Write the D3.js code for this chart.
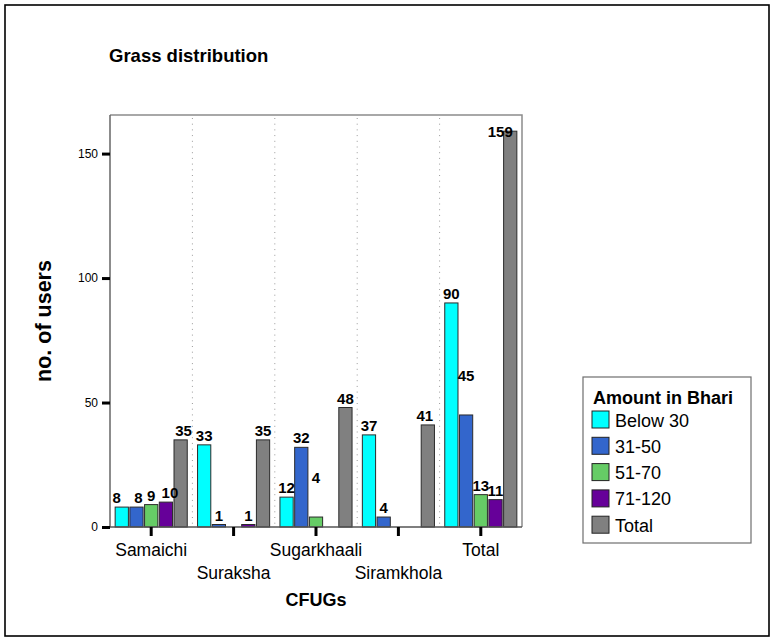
<!DOCTYPE html>
<html>
<head>
<meta charset="utf-8">
<script src="https://cdn.jsdelivr.net/npm/d3@7"></script>
<style>
  html, body { margin: 0; padding: 0; background: #fff; }
  svg { display: block; font-family: "Liberation Sans", Arial, sans-serif; }
</style>
</head>
<body>
<svg id="chart" width="774" height="641"></svg>
<script>
// Grass distribution by CFUG and amount (in Bhari)
const categories = ["Samaichi", "Suraksha", "Sugarkhaali", "Siramkhola", "Total"];
const seriesNames = ["Below 30", "31-50", "51-70", "71-120", "Total"];
const belowThirty = [8, 33, 12, 37, 90];
const thirtyOneToFifty = [8, 1, 32, 4, 45];
const fiftyOneToSeventy = [9, null, 4, null, 13];
const seventyOneTo120 = [10, 1, null, null, 11];
const totals = [35, 35, 48, 41, 159];
const seriesColors = ["#00FFFF", "#3366CC", "#66CC66", "#660099", "#808080"];
const yTickValues = [0, 50, 100, 150];

const seriesValues = [belowThirty, thirtyOneToFifty, fiftyOneToSeventy, seventyOneTo120, totals];

const svg = d3.select("#chart");
const FONT = "'Liberation Sans', Arial, sans-serif";

// outer frame
svg.append("rect")
  .attr("x", 5).attr("y", 5).attr("width", 764).attr("height", 631)
  .attr("fill", "#fff").attr("stroke", "#000").attr("stroke-width", 1.6);

// plot area
const plot = { left: 110, right: 522, top: 115, bottom: 527 };

const x = d3.scaleBand().domain(categories).range([plot.left, plot.right]).padding(0);
const xs = d3.scaleBand().domain(seriesNames).range([0, x.bandwidth()])
  .paddingInner(0.1).paddingOuter(0.35);
const y = d3.scaleLinear().domain([0, 165.5]).range([plot.bottom, plot.top]);

// title
svg.append("text")
  .attr("x", 109).attr("y", 62)
  .attr("font-size", 18.5).attr("font-weight", "bold")
  .text("Grass distribution");

// dotted separators between categories
svg.append("g").selectAll("line")
  .data(categories.slice(1))
  .join("line")
  .attr("x1", d => x(d)).attr("x2", d => x(d))
  .attr("y1", plot.top + 3).attr("y2", plot.bottom)
  .attr("stroke", "#9a9a9a").attr("stroke-width", 1)
  .attr("stroke-dasharray", "1,4.7");

// plot frame (top and right)
svg.append("path")
  .attr("d", `M${plot.left},${plot.top}H${plot.right}V${plot.bottom}`)
  .attr("fill", "none").attr("stroke", "#8c8c8c").attr("stroke-width", 1.5);

// bars
const barData = [];
categories.forEach((c, ci) => {
  seriesNames.forEach((s, si) => {
    const v = seriesValues[si][ci];
    if (v !== null && v !== undefined) barData.push({ c, s, si, v });
  });
});

svg.append("g").selectAll("rect")
  .data(barData)
  .join("rect")
  .attr("x", d => x(d.c) + xs(d.s))
  .attr("y", d => y(d.v))
  .attr("width", xs.bandwidth())
  .attr("height", d => y(0) - y(d.v))
  .attr("fill", d => seriesColors[d.si])
  .attr("stroke", "#2b2b2b").attr("stroke-width", 1);

// value labels, a few nudged apart so neighbours stay readable
const labelNudge = {
  "Samaichi|Below 30": [-5, 0],
  "Samaichi|31-50": [2, 0],
  "Samaichi|71-120": [4, 0],
  "Samaichi|Total": [3, 0],
  "Siramkhola|Total": [-3, 0],
  "Sugarkhaali|51-70": [0, -30],
  "Total|31-50": [0, -30],
  "Total|Total": [-10, 10]
};
const nudge = d => labelNudge[d.c + "|" + d.s] || [0, 0];
svg.append("g").selectAll("text")
  .data(barData)
  .join("text")
  .attr("x", d => x(d.c) + xs(d.s) + xs.bandwidth() / 2 + nudge(d)[0])
  .attr("y", d => y(d.v) - 4 + nudge(d)[1])
  .attr("text-anchor", "middle")
  .attr("font-size", 15).attr("font-weight", "bold")
  .attr("fill", "#000")
  .text(d => d.v);

// y axis
const yAxis = svg.append("g")
  .attr("transform", `translate(${plot.left},0)`)
  .call(d3.axisLeft(y).tickValues(yTickValues).tickSize(8).tickPadding(4));
yAxis.select(".domain").attr("stroke", "#666").attr("stroke-width", 1.5)
  .attr("d", `M0,${plot.top}V${plot.bottom}`);
yAxis.selectAll(".tick line").attr("stroke", "#000").attr("stroke-width", 3);
yAxis.selectAll(".tick text").attr("font-size", 12).attr("font-family", FONT).attr("fill", "#000");

// x axis
const xAxis = svg.append("g")
  .attr("transform", `translate(0,${plot.bottom})`)
  .call(d3.axisBottom(x).tickSize(9).tickPadding(0));
xAxis.select(".domain").attr("stroke", "#555").attr("stroke-width", 1.5)
  .attr("d", `M${plot.left},0H${plot.right}`);
xAxis.selectAll(".tick line").attr("stroke", "#000").attr("stroke-width", 3);
xAxis.selectAll(".tick text")
  .attr("font-size", 17.5).attr("font-family", FONT).attr("fill", "#000")
  .attr("dy", null)
  .attr("y", (d, i) => i % 2 === 0 ? 29 : 52);

// axis titles
svg.append("text")
  .attr("x", (plot.left + plot.right) / 2).attr("y", 606)
  .attr("text-anchor", "middle")
  .attr("font-size", 18).attr("font-weight", "bold")
  .text("CFUGs");

svg.append("text")
  .attr("transform", `translate(51,${(plot.top + plot.bottom) / 2}) rotate(-90)`)
  .attr("text-anchor", "middle")
  .attr("font-size", 21.5).attr("font-weight", "bold")
  .text("no. of users");

// legend
const legend = svg.append("g");
legend.append("rect")
  .attr("x", 583).attr("y", 377).attr("width", 168).attr("height", 166)
  .attr("fill", "#fff").attr("stroke", "#6e6e6e").attr("stroke-width", 1.2);
legend.append("text")
  .attr("x", 593).attr("y", 404)
  .attr("font-size", 18).attr("font-weight", "bold")
  .text("Amount in Bhari");
const items = legend.selectAll("g.item")
  .data(seriesNames)
  .join("g")
  .attr("class", "item")
  .attr("transform", (d, i) => `translate(592,${411 + i * 26.3})`);
items.append("rect")
  .attr("width", 17).attr("height", 17)
  .attr("fill", (d, i) => seriesColors[i])
  .attr("stroke", "#222").attr("stroke-width", 1);
items.append("text")
  .attr("x", 23).attr("y", 15.5)
  .attr("font-size", 18)
  .text(d => d);
</script>
</body>
</html>
